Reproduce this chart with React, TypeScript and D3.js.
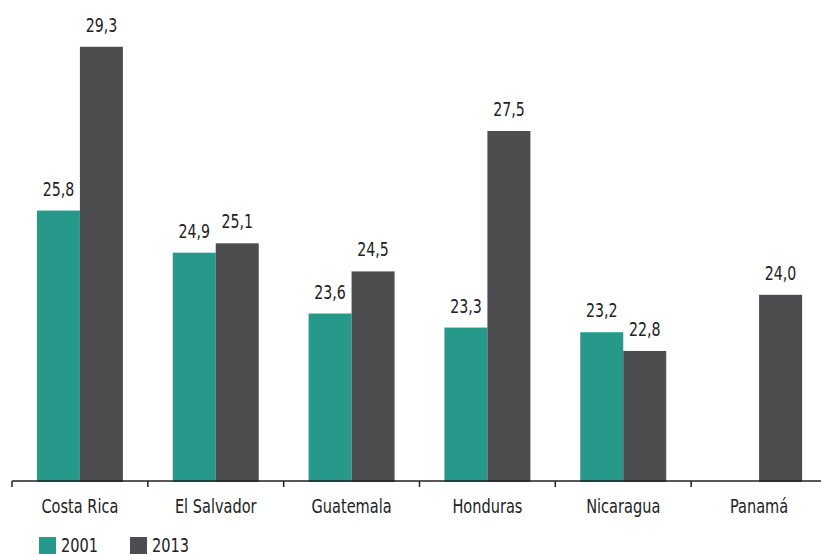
import * as d3 from "d3";

const countries = ["Costa Rica", "El Salvador", "Guatemala", "Honduras", "Nicaragua", "Panamá"];
const years = ["2001", "2013"];
const values2001: (number | null)[] = [25.8, 24.9, 23.6, 23.3, 23.2, null];
const values2013: (number | null)[] = [29.3, 25.1, 24.5, 27.5, 22.8, 24.0];

const W = 821;
const H = 555;
const COLORS: Record<string, string> = { "2001": "#26998a", "2013": "#4d4c4e" };
const FONT = "'DejaVu Sans Condensed', 'DejaVu Sans', sans-serif";
const SQUEEZE = 0.83; // reference uses a narrow face

// condensed text helper
function Label({ x, y, size, anchor = "middle", children }: any) {
  return (
    <text
      transform={`translate(${x},${y}) scale(${SQUEEZE},1)`}
      textAnchor={anchor}
      fontSize={size}
      fill="#222"
    >
      {children}
    </text>
  );
}

export default function App() {
  const x = d3.scaleBand<string>().domain(countries).range([12, 827]);
  const inner = d3
    .scaleBand<string>()
    .domain(years)
    .range([0, x.bandwidth()])
    .paddingInner(0)
    .paddingOuter(0.58);
  const y = d3.scaleLinear().domain([20, 30]).range([482, 14]);

  const series = [
    { year: "2001", vals: values2001 },
    { year: "2013", vals: values2013 },
  ];
  const fmt = (v: number) => v.toFixed(1).replace(".", ",");
  const axisY = 481;

  return (
    <svg
      width={W}
      height={H}
      style={{ position: "absolute", left: 0, top: 0, background: "#fff" }}
      fontFamily={FONT}
    >
      {series.map((s) =>
        countries.map((c, i) => {
          const v = s.vals[i];
          if (v == null) return null;
          const bx = (x(c) ?? 0) + (inner(s.year) ?? 0);
          return (
            <g key={s.year + c}>
              <rect
                x={bx}
                y={y(v)}
                width={inner.bandwidth()}
                height={y(20) - y(v)}
                fill={COLORS[s.year]}
              />
              <Label x={bx + inner.bandwidth() / 2} y={y(v) - 15} size={19}>
                {fmt(v)}
              </Label>
            </g>
          );
        })
      )}

      {/* axis */}
      <line x1={12} x2={W} y1={axisY} y2={axisY} stroke="#222" strokeWidth={1.5} />
      {countries.map((c) => (
        <line
          key={"t" + c}
          x1={x(c) ?? 0}
          x2={x(c) ?? 0}
          y1={axisY}
          y2={axisY + 6}
          stroke="#222"
          strokeWidth={1.5}
        />
      ))}
      {countries.map((c) => (
        <Label key={"l" + c} x={(x(c) ?? 0) + x.bandwidth() / 2} y={513} size={19.5}>
          {c}
        </Label>
      ))}

      {/* legend */}
      {years.map((yr, i) => (
        <g key={"lg" + yr} transform={`translate(${39 + i * 91},537)`}>
          <rect width={17} height={17} fill={COLORS[yr]} />
          <Label x={22} y={15} size={19.5} anchor="start">
            {yr}
          </Label>
        </g>
      ))}
    </svg>
  );
}
